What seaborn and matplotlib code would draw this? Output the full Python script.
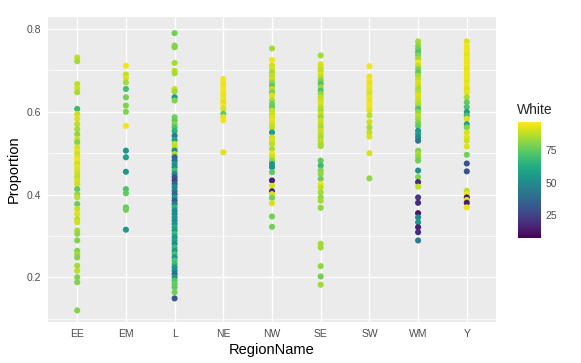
import numpy as np
import pandas as pd
import matplotlib
matplotlib.use("Agg")
import matplotlib.pyplot as plt
import seaborn as sns
from matplotlib.ticker import MultipleLocator

regions = ["EE", "EM", "L", "NE", "NW", "SE", "SW", "WM", "Y"]

ee_prop = [0.731, 0.722, 0.667, 0.657, 0.647, 0.607, 0.595, 0.583, 0.570, 0.558, 0.546, 0.534, 0.526, 0.514, 0.506,
           0.498, 0.490, 0.482, 0.474, 0.466, 0.458, 0.450, 0.442, 0.434, 0.425, 0.413, 0.401, 0.393, 0.377, 0.365,
           0.353, 0.341, 0.333, 0.313, 0.305, 0.289, 0.264, 0.256, 0.248, 0.228, 0.216, 0.200, 0.188, 0.120]
ee_white = [88, 85, 88, 90, 85, 68, 90, 92, 88, 85, 82, 90, 80, 92, 94, 90, 93, 95, 90, 94, 92, 90, 88, 92, 90, 75,
            82, 88, 76, 90, 92, 88, 90, 85, 82, 80, 80, 85, 80, 85, 88, 80, 80, 80]

em_prop = [0.711, 0.690, 0.682, 0.671, 0.655, 0.635, 0.615, 0.600, 0.566, 0.506, 0.490, 0.455, 0.413, 0.403, 0.369,
           0.363, 0.315]
em_white = [95, 88, 92, 85, 70, 78, 80, 80, 95, 55, 58, 55, 72, 75, 75, 78, 55]

l_prop = [0.790, 0.760, 0.756, 0.718, 0.699, 0.693, 0.655, 0.649, 0.635, 0.627,
          0.587, 0.579, 0.570, 0.562, 0.553, 0.542, 0.532, 0.522, 0.514, 0.506, 0.498, 0.490, 0.482, 0.474, 0.466,
          0.458, 0.450, 0.442, 0.434, 0.426, 0.418, 0.409, 0.401, 0.393, 0.385, 0.377, 0.369, 0.361, 0.353, 0.345,
          0.337, 0.329, 0.321, 0.313, 0.305, 0.297, 0.289, 0.281, 0.272, 0.264, 0.256, 0.248, 0.240, 0.232, 0.224,
          0.216, 0.208, 0.200, 0.192, 0.184, 0.176, 0.164, 0.149]
l_white = [78, 80, 80, 85, 88, 85, 90, 85, 55, 80,
           78, 75, 80, 72, 65, 45, 60, 90, 88, 50, 85, 35, 38, 55, 50,
           70, 50, 30, 25, 35, 50, 45, 35, 55, 32, 45, 65, 50, 48, 55,
           50, 52, 62, 55, 68, 55, 60, 50, 68, 55, 70, 55, 72, 68, 55,
           50, 40, 55, 72, 76, 74, 78, 32]

ne_prop = [0.679, 0.671, 0.663, 0.655, 0.647, 0.639, 0.631, 0.623, 0.615, 0.607, 0.595, 0.587, 0.579, 0.502]
ne_white = [95, 95, 94, 96, 95, 94, 95, 93, 95, 92, 75, 94, 95, 93]

nw_prop = [0.753, 0.725, 0.711, 0.703, 0.695, 0.687, 0.679, 0.671, 0.663, 0.655, 0.647, 0.639, 0.627, 0.619, 0.611,
           0.603, 0.595, 0.587, 0.579, 0.570, 0.562, 0.550, 0.538, 0.530, 0.522, 0.510, 0.498, 0.490, 0.482, 0.474,
           0.466, 0.454, 0.434, 0.421, 0.408, 0.401, 0.392, 0.379, 0.347, 0.322]
nw_white = [85, 95, 90, 92, 85, 88, 90, 82, 75, 88, 80, 92, 85, 78, 75, 88, 90, 92, 94, 90, 88, 58, 90, 92, 88, 86,
            94, 90, 82, 55, 52, 75, 15, 92, 18, 92, 78, 92, 78, 78]

se_prop = [0.736, 0.715, 0.707, 0.699, 0.691, 0.683, 0.675, 0.667, 0.659, 0.651, 0.643, 0.635, 0.627, 0.619, 0.611,
           0.603, 0.595, 0.587, 0.579, 0.570, 0.562, 0.554, 0.546, 0.538, 0.530, 0.522, 0.517, 0.482, 0.470, 0.458,
           0.450, 0.438, 0.425, 0.417, 0.405, 0.393, 0.385, 0.368, 0.281, 0.272, 0.227, 0.202, 0.182]
se_white = [85, 92, 90, 88, 92, 88, 80, 72, 85, 72, 82, 88, 90, 92, 88, 85, 90, 82, 90, 88, 85, 90, 88, 85, 88, 86,
            85, 75, 68, 80, 82, 78, 95, 88, 85, 82, 85, 82, 85, 84, 82, 78, 84]

sw_prop = [0.710, 0.685, 0.675, 0.667, 0.659, 0.651, 0.643, 0.635, 0.627, 0.619, 0.611, 0.603, 0.591, 0.575, 0.562,
           0.550, 0.540, 0.500, 0.439]
sw_white = [95, 94, 95, 93, 95, 94, 92, 95, 94, 95, 95, 93, 88, 90, 86, 88, 92, 92, 82]

wm_prop = [0.770, 0.760, 0.752, 0.744, 0.736, 0.728, 0.719, 0.711, 0.703, 0.695, 0.687, 0.679, 0.671, 0.663, 0.655,
           0.647, 0.639, 0.631, 0.623, 0.615, 0.607, 0.599, 0.591, 0.583, 0.574, 0.566, 0.554, 0.546, 0.538, 0.530,
           0.506, 0.498, 0.490, 0.482, 0.458, 0.442, 0.430, 0.419, 0.393, 0.380, 0.355, 0.345, 0.333, 0.321, 0.309,
           0.289]
wm_white = [85, 82, 78, 72, 80, 85, 95, 88, 80, 75, 85, 88, 92, 90, 85, 88, 92, 90, 88, 85, 72, 82, 88, 85, 80, 75,
            55, 58, 50, 42, 80, 85, 82, 78, 52, 80, 18, 88, 22, 18, 12, 50, 55, 15, 18, 45]

y_prop = [0.770, 0.760, 0.752, 0.744, 0.736, 0.728, 0.719, 0.711, 0.703, 0.695, 0.687, 0.679, 0.671, 0.663, 0.655,
          0.647, 0.635, 0.623, 0.611, 0.599, 0.591, 0.583, 0.570, 0.562, 0.550, 0.538, 0.530, 0.516, 0.496, 0.475,
          0.456, 0.409, 0.401, 0.393, 0.387, 0.380, 0.369]
y_white = [92, 95, 94, 95, 93, 95, 94, 95, 93, 95, 94, 95, 93, 95, 92, 94, 85, 75, 72, 55, 70, 92, 60, 80, 92, 93,
           90, 92, 78, 30, 30, 88, 95, 12, 92, 15, 94]

props = [ee_prop, em_prop, l_prop, ne_prop, nw_prop, se_prop, sw_prop, wm_prop, y_prop]
whites = [ee_white, em_white, l_white, ne_white, nw_white, se_white, sw_white, wm_white, y_white]

rows = []
for r, ps, ws in zip(regions, props, whites):
    for p, w in zip(ps, ws):
        rows.append((r, p, w))
df = pd.DataFrame(rows, columns=["RegionName", "Proportion", "White"])

wmin, wmax = 7, 97

sns.set_style("white")
plt.rcParams["font.family"] = ["Liberation Sans", "DejaVu Sans"]

fig = plt.figure(figsize=(5.81, 3.63), dpi=100)
ax = fig.add_axes([48 / 581, 1 - 322 / 363, (496 - 48) / 581, (322 - 17) / 363])
ax.set_facecolor("#ebebeb")

sns.stripplot(data=df, x="RegionName", y="Proportion", hue="White", order=regions,
              palette="viridis", hue_norm=(wmin, wmax), jitter=False, legend=False,
              size=4.4, linewidth=0, ax=ax, zorder=3)

ax.set_xlim(-0.6, 8.6)
ax.set_ylim(0.092, 0.829)
ax.yaxis.set_major_locator(MultipleLocator(0.2))
ax.yaxis.set_minor_locator(MultipleLocator(0.1))
ax.set_yticks([0.2, 0.4, 0.6, 0.8])
ax.set_yticklabels(["0.2", "0.4", "0.6", "0.8"])
ax.grid(True, which="major", color="white", linewidth=1.0, zorder=0)
ax.grid(True, which="minor", axis="y", color="white", linewidth=0.5, zorder=0)
ax.set_axisbelow(True)
for s in ax.spines.values():
    s.set_visible(False)
ax.tick_params(axis="both", which="major", direction="out", length=3, width=0.8,
               color="#333333", labelcolor="#4d4d4d", labelsize=7.5, pad=2)
ax.tick_params(axis="y", which="minor", length=0)
ax.set_xlabel("RegionName", fontsize=10.5, color="black", labelpad=3)
ax.set_ylabel("Proportion", fontsize=10.5, color="black", labelpad=4)

# colorbar
cax = fig.add_axes([518 / 581, 1 - 238 / 363, 23 / 581, 116 / 363])
sm = plt.cm.ScalarMappable(cmap="viridis", norm=plt.Normalize(wmin, wmax))
cb = fig.colorbar(sm, cax=cax, ticks=[25, 50, 75])
cb.outline.set_visible(False)
cax.tick_params(left=True, right=True, labelleft=False, labelright=True, direction="in",
                color="white", length=4.5, width=0.8, labelsize=7.5, labelcolor="#4d4d4d", pad=3)
cax.set_title("White", fontsize=10, loc="left", pad=6, x=-0.05)

fig.savefig("out.png", dpi=100)
